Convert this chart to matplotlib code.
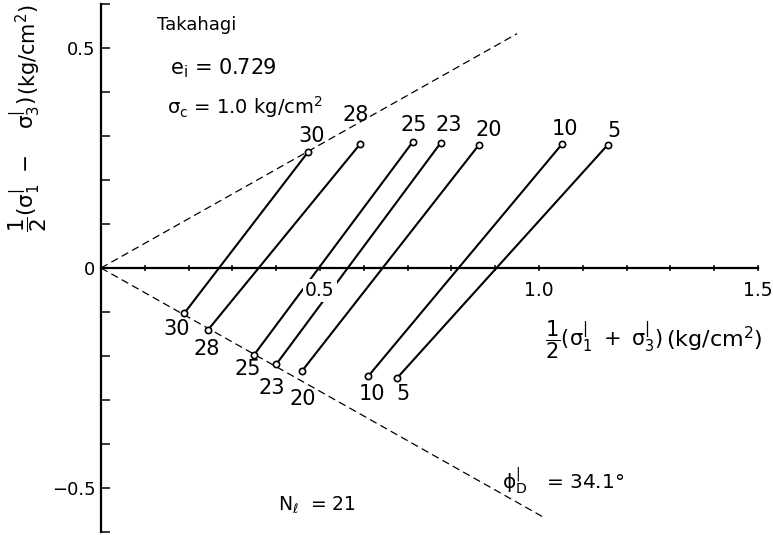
import numpy as np
import matplotlib
matplotlib.use("Agg")
import matplotlib.pyplot as plt
from matplotlib.ticker import FixedLocator

plt.rcParams['font.family'] = ['DejaVu Sans']
plt.rcParams['mathtext.default'] = 'regular'
plt.rcParams['mathtext.fontset'] = 'dejavusans'

# Number of cycles for each stress path
cycles = [30, 28, 25, 23, 20, 10, 5]
# Upper ends of the stress paths: p' = (s1'+s3')/2, q = (s1'-s3')/2  (kg/cm2)
p_top = [0.473, 0.591, 0.712, 0.776, 0.863, 1.052, 1.157]
q_top = [0.264, 0.281, 0.287, 0.285, 0.280, 0.281, 0.280]
# Lower ends of the stress paths
p_bot = [0.190, 0.244, 0.349, 0.400, 0.459, 0.610, 0.676]
q_bot = [-0.103, -0.141, -0.198, -0.219, -0.234, -0.246, -0.250]

site = "Takahagi"
e_i = 0.729
sigma_c = 1.0
n_l = 21
phi_d = 34.1

# label offsets in points (x, y)
top_off = [(2.2, 11.5), (-2.9, 20.9), (0.7, 12.2), (5.8, 13.0), (7.2, 10.8), (2.2, 10.8), (4.3, 10.1)]
bot_off = [(-5.8, -11.5), (-0.5, -13.7), (-4.3, -10.0), (-2.9, -17.3), (0.7, -20.0), (2.9, -13.0), (4.3, -11.5)]

fig = plt.figure(figsize=(7.73, 5.35), dpi=100)
ax = fig.add_axes([101 / 773, 3 / 535, 657 / 773, 528 / 535])
ax.set_xlim(0, 1.5)
ax.set_ylim(-0.6, 0.6)
ax.set_axisbelow(False)

for s in ("top", "right"):
    ax.spines[s].set_visible(False)
ax.spines["left"].set_position(("data", 0))
ax.spines["bottom"].set_position(("data", 0))
for s in ("left", "bottom"):
    ax.spines[s].set_linewidth(1.6)

ax.xaxis.set_major_locator(FixedLocator([0.5, 1.0, 1.5]))
ax.xaxis.set_minor_locator(FixedLocator([round(0.1 * i, 1) for i in range(1, 15) if i not in (5, 10)]))
ax.yaxis.set_major_locator(FixedLocator([-0.5, 0.0, 0.5]))
ax.yaxis.set_minor_locator(FixedLocator([round(0.1 * i, 1) for i in range(-6, 7) if i not in (-5, 0, 5)]))
ax.set_xticklabels(["0.5", "1.0", "1.5"])
ax.set_yticklabels(["\u22120.5", "0", "0.5"])
ax.tick_params(axis="x", which="both", direction="inout", length=5, width=1.1,
               labelsize=13.5, pad=7)
ax.tick_params(axis="y", which="both", direction="in", length=6.5, width=1.1,
               labelsize=13, pad=4)
for lab in ax.get_xticklabels():
    lab.set_bbox(dict(facecolor="white", edgecolor="none", pad=1.5))

# failure envelopes
slope = np.sin(np.radians(phi_d))
ax.plot([0, 0.95], [0, slope * 0.95], color="black", lw=0.9, ls=(0, (6, 3.5)), zorder=2)
ax.plot([0, 1.01], [0, -slope * 1.01], color="black", lw=0.9, ls=(0, (6, 3.5)), zorder=2)

# stress paths
for i in range(len(cycles)):
    ax.plot([p_bot[i], p_top[i]], [q_bot[i], q_top[i]], color="black", lw=1.5, zorder=2)
ax.plot(p_top, q_top, "o", mfc="white", mec="black", ms=4.5, mew=1.2, zorder=3, clip_on=False)
ax.plot(p_bot, q_bot, "o", mfc="white", mec="black", ms=4.5, mew=1.2, zorder=3, clip_on=False)

for i, n in enumerate(cycles):
    ax.annotate(str(n), (p_top[i], q_top[i]), xytext=top_off[i], textcoords="offset points",
                ha="center", va="center", fontsize=15)
    ax.annotate(str(n), (p_bot[i], q_bot[i]), xytext=bot_off[i], textcoords="offset points",
                ha="center", va="center", fontsize=15)

# annotations
ax.text(0.128, 0.552, site, ha="left", va="center", fontsize=13)
ax.text(0.158, 0.455, r"$e_i$ = %.3f" % e_i, ha="left", va="center", fontsize=15)
ax.text(0.151, 0.366, r"$\sigma_c$ = %.1f kg/cm$^2$" % sigma_c, ha="left", va="center", fontsize=14)
ax.text(0.404, -0.539, r"$N_\ell$  = %d" % n_l, ha="left", va="center", fontsize=13.5)
ax.text(0.916, -0.484, r"$\phi^{|}_{D}$   = %.1f°" % phi_d, ha="left", va="center", fontsize=14.5)

# axis titles (stress expression and unit drawn side by side)
ax.text(1.283, -0.164, r"$\dfrac{1}{2}(\sigma^{|}_{1}\ +\ \sigma^{|}_{3})$",
        ha="right", va="center", fontsize=15)
ax.text(1.290, -0.162, "(kg/cm$^2$)", ha="left", va="center", fontsize=16)
ax.text(-0.167, 0.236, r"$\dfrac{1}{2}(\sigma^{|}_{1}\ -\ \ \ \sigma^{|}_{3})$",
        ha="center", va="center", rotation=90, fontsize=15.5)
ax.text(-0.165, 0.497, "(kg/cm$^2$)", ha="center", va="center", rotation=90, fontsize=15)

fig.savefig("out.png", dpi=100)
